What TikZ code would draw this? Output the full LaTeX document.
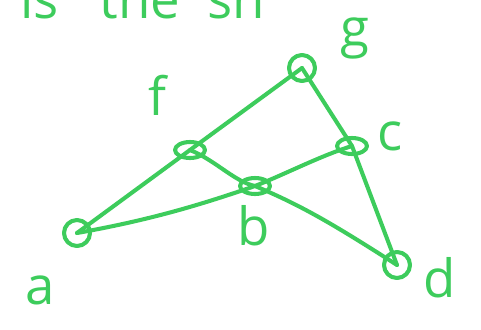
\documentclass[tikz,border=0pt]{standalone}
\usepackage{fontspec}
\setmainfont{Open Sans}
\usepackage{tikz}
\usetikzlibrary{shapes.geometric, calc}
\definecolor{inkgreen}{HTML}{3DCC5C}
\tikzset{
  ink/.style={draw=inkgreen, line width=2.3pt, line cap=round, line join=round},
  bigvert/.style={ink, circle, minimum size=0.52cm, inner sep=0pt},
  smallvert/.style={ink, ellipse, minimum width=0.6cm, minimum height=0.32cm, inner sep=0pt},
  tedge/.style={ink},
  vlbl/.style={text=inkgreen, font=\fontsize{30}{32}\selectfont, inner sep=0pt},
}
\begin{document}
\begin{tikzpicture}[x=0.2mm, y=-0.2mm]
    \useasboundingbox (0,0) rectangle (481,329);
    \clip (0,0) rectangle (481,329);
    \fill[white] (0,0) rectangle (481,329);
    % cut-off line of writing at the top
    \node[vlbl, anchor=base west] (top) at (20,18) {is\ \ \ the\ \ sh};
    % vertices
    \node[bigvert] (a) at (77,233) {};
    \node[smallvert] (f) at (190,150) {};
    \node[bigvert] (g) at (302,68) {};
    \node[smallvert] (c) at (352,146) {};
    \node[smallvert] (b) at (255,186) {};
    \node[bigvert] (d) at (397,265) {};
    % labels
    \node[vlbl] (la) at (40,290) {a};
    \node[vlbl] (lf) at (157,95) {f};
    \node[vlbl] (lg) at (355,38) {g};
    \node[vlbl] (lc) at (390,136) {c};
    \node[vlbl] (lb) at (254,226) {b};
    \node[vlbl] (ld) at (440,278) {d};
    % edges
    \draw[tedge] (a.center) -- (f.center) -- (g.center);
    \draw[tedge] (g.center) -- (c.center) -- (d.center);
    \draw[tedge] (a.center) .. controls (150,220) and (200,205) .. (b.center);
    \draw[tedge] (b.center) .. controls (290,172) and (320,156) .. (c.center);
    \draw[tedge] (f.center) .. controls (215,160) and (235,182) .. (b.center);
    \draw[tedge] (b.center) .. controls (300,205) and (330,222) .. (d.center);
  \end{tikzpicture}
\end{document}
